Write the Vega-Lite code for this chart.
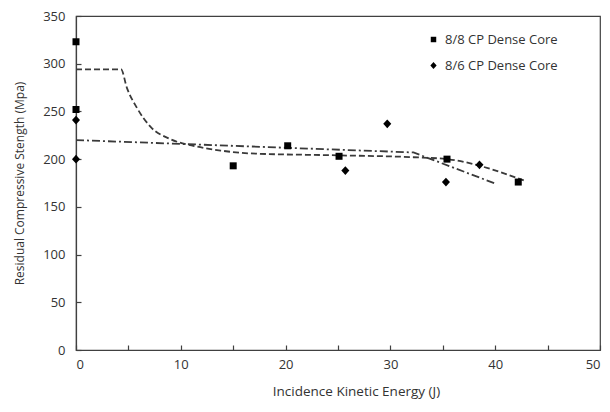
{
  "$schema": "https://vega.github.io/schema/vega-lite/v6.json",
  "width": 524,
  "height": 334,
  "autosize": {"type": "none"},
  "padding": {"left": 76, "top": 16, "right": 10, "bottom": 62},
  "background": "white",
  "config": {
    "view": {"stroke": "#404040", "strokeWidth": 1.2},
    "font": "Open Sans",
    "axis": {
      "grid": false,
      "domainColor": "#404040",
      "domainWidth": 1.2,
      "tickColor": "#404040",
      "tickWidth": 1.2,
      "labelFont": "Open Sans",
      "labelFontSize": 13,
      "labelColor": "#333333",
      "titleFont": "Open Sans",
      "titleFontSize": 12,
      "titleFontWeight": "normal",
      "titleColor": "#333333"
    }
  },
  "datasets": {
    "points": [
      {"E": 0, "S": 323, "series": "8/8 CP Dense Core"},
      {"E": 0, "S": 252, "series": "8/8 CP Dense Core"},
      {"E": 15, "S": 193, "series": "8/8 CP Dense Core"},
      {"E": 20.2, "S": 214, "series": "8/8 CP Dense Core"},
      {"E": 25.1, "S": 203, "series": "8/8 CP Dense Core"},
      {"E": 35.4, "S": 200, "series": "8/8 CP Dense Core"},
      {"E": 42.2, "S": 176, "series": "8/8 CP Dense Core"},
      {"E": 0, "S": 241, "series": "8/6 CP Dense Core"},
      {"E": 0, "S": 200, "series": "8/6 CP Dense Core"},
      {"E": 25.7, "S": 188, "series": "8/6 CP Dense Core"},
      {"E": 29.7, "S": 237, "series": "8/6 CP Dense Core"},
      {"E": 35.3, "S": 176, "series": "8/6 CP Dense Core"},
      {"E": 38.5, "S": 194, "series": "8/6 CP Dense Core"}
    ],
    "dashed": [
      {"E": 0, "S": 294},
      {"E": 4.3, "S": 294},
      {"E": 4.85, "S": 275},
      {"E": 5.8, "S": 254},
      {"E": 7.1, "S": 234},
      {"E": 9, "S": 221},
      {"E": 11.2, "S": 214},
      {"E": 13.8, "S": 209},
      {"E": 16.6, "S": 206},
      {"E": 24.9, "S": 204},
      {"E": 32.2, "S": 202},
      {"E": 35.4, "S": 200},
      {"E": 42.9, "S": 177}
    ],
    "dashdot": [
      {"E": 0, "S": 220},
      {"E": 32.2, "S": 207},
      {"E": 40.1, "S": 174}
    ]
  },
  "layer": [
    {
      "data": {"name": "dashed"},
      "mark": {"type": "line", "color": "#3a3a3a", "strokeWidth": 1.8, "strokeDash": [6, 3], "interpolate": "monotone"},
      "encoding": {
        "x": {"field": "E", "type": "quantitative"},
        "y": {"field": "S", "type": "quantitative"}
      }
    },
    {
      "data": {"name": "dashdot"},
      "mark": {"type": "line", "color": "#3a3a3a", "strokeWidth": 1.8, "strokeDash": [8, 3, 2, 3]},
      "encoding": {
        "x": {"field": "E", "type": "quantitative"},
        "y": {"field": "S", "type": "quantitative"}
      }
    },
    {
      "data": {"name": "points"},
      "mark": {"type": "point", "filled": true, "opacity": 1, "color": "black", "size": 49},
      "encoding": {
        "x": {
          "field": "E", "type": "quantitative",
          "scale": {"domain": [0, 50], "nice": false},
          "axis": {
            "title": "Incidence Kinetic Energy (J)",
            "titleFontSize": 13.5,
            "values": [0, 5, 10, 15, 20, 25, 30, 35, 40, 45, 50],
            "labelExpr": "datum.value % 10 === 0 ? datum.label : ''",
            "tickSize": -5,
            "labelPadding": 13,
            "titlePadding": 13,
            "titleX": 280
          }
        },
        "y": {
          "field": "S", "type": "quantitative",
          "scale": {"domain": [0, 350], "nice": false},
          "axis": {
            "title": "Residual Compressive Stength (Mpa)",
            "values": [0, 25, 50, 75, 100, 125, 150, 175, 200, 225, 250, 275, 300, 325, 350],
            "labelExpr": "datum.value % 50 === 0 ? datum.label : ''",
            "tickSize": -5,
            "labelPadding": 16,
            "titlePadding": 16
          }
        },
        "shape": {
          "field": "series", "type": "nominal",
          "scale": {"domain": ["8/8 CP Dense Core", "8/6 CP Dense Core"], "range": ["square", "M0,-1.25L1.15,0L0,1.25L-1.15,0Z"]},
          "legend": {
            "title": null,
            "orient": "none",
            "legendX": 351,
            "legendY": 17,
            "padding": 0,
            "labelFont": "Open Sans",
            "labelFontSize": 13,
            "labelColor": "#333333",
            "symbolSize": 30,
            "symbolFillColor": "black",
            "symbolStrokeColor": "black",
            "symbolStrokeWidth": 0,
            "rowPadding": 12,
            "labelOffset": 5
          }
        }
      }
    }
  ]
}
